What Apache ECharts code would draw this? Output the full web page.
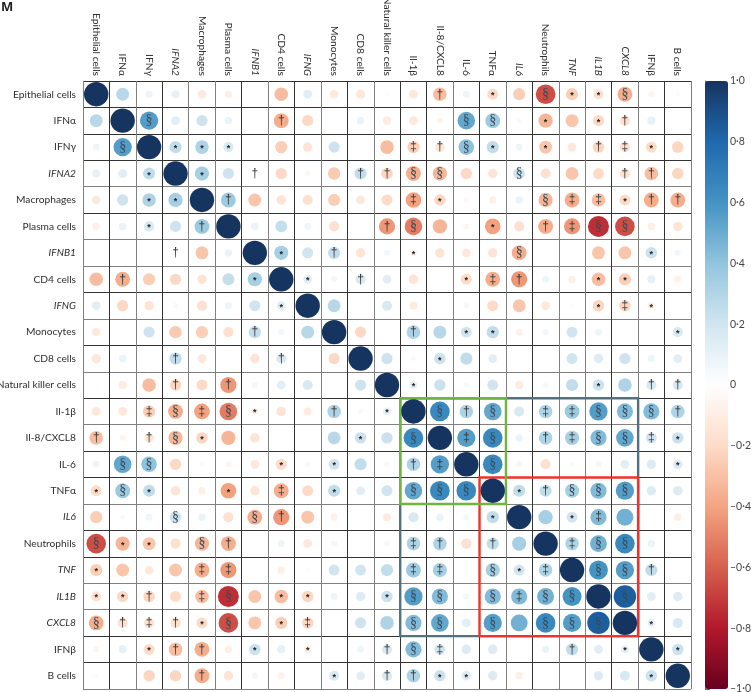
<!DOCTYPE html>
<html>
<head>
<meta charset="utf-8">
<style>html,body{margin:0;padding:0;background:#fff}#container{width:756px;height:692px}</style>
<script src="https://cdn.jsdelivr.net/npm/echarts@6/dist/echarts.min.js"></script>
</head>
<body>
<div id="container"></div>
<script>
let names = ['Epithelial cells','IFNα','IFNγ','IFNA2','Macrophages','Plasma cells','IFNB1','CD4 cells','IFNG','Monocytes','CD8 cells','Natural killer cells','Il-1β','Il-8/CXCL8','IL-6','TNFα','IL6','Neutrophils','TNF','IL1B','CXCL8','IFNβ','B cells'];
let italicNames = ['IFNA2','IFNB1','IFNG','IL6','TNF','IL1B','CXCL8'];

// upper triangle of the correlation matrix, each row starts right of the diagonal
let epithelialRow = [.28,.08,.11,-.12,-.09,-.005,-.31,.13,-.12,-.14,-.02,-.13,-.31,.08,-.2,-.25,-.65,-.25,-.17,-.37,-.06,-.03];
let ifnaRow = [.56,.13,.21,.09,0,-.37,-.21,-.01,.09,-.11,-.13,-.06,.52,.37,.04,-.34,-.28,-.21,-.17,.11,-.01];
let ifngRow = [.25,.31,.17,-.01,-.25,-.15,.21,0,-.31,-.25,-.15,.41,.25,.08,-.28,-.13,-.22,-.17,-.2,-.22];
let ifna2Row = [.34,.21,.005,-.21,-.05,-.26,.25,-.22,-.37,-.34,-.21,-.15,.22,-.17,-.28,-.2,-.17,-.31,-.22];
let macrophagesRow = [.37,-.28,-.15,-.17,-.25,-.13,-.2,-.41,-.22,-.04,-.09,.09,-.34,-.37,-.31,-.2,-.37,-.37];
let plasmaRow = [.09,.24,.08,-.17,-.01,-.44,-.52,-.34,-.06,-.41,-.17,-.37,-.44,-.74,-.65,-.09,-.15];
let ifnb1Row = [.34,.2,.25,-.15,.06,-.08,-.15,-.13,-.15,-.37,0,0,-.28,-.28,.22,.06];
let cd4Row = [.13,.06,.17,.13,-.15,0,-.2,-.37,-.44,.08,-.09,-.31,-.25,.11,-.08];
let ifngGeneRow = [.28,-.007,.17,-.11,0,.05,-.2,-.28,-.13,.02,-.22,-.22,-.09,-.01];
let monocytesRow = [-.21,0,.31,.28,.2,.25,-.08,.06,.2,.08,.01,.005,.17];
let cd8Row = [.21,.04,.22,.25,.13,.005,.005,.2,.15,.21,.08,.13];
let nkRow = [.11,.22,.05,.2,-.11,.05,.25,.22,.31,.17,.17];
let il1bRow = [.65,.31,.52,.17,.31,.37,.56,.44,.44,.31];
let il8Row = [.56,.65,.09,.31,.34,.44,.52,.2,.22];
let il6Row = [.65,.06,-.17,.03,.06,.13,.15,.15];
let tnfaRow = [.25,.25,.34,.44,.56,.15,.15];
let il6GeneRow = [.34,.2,.44,.48,0,-.09];
let neutrophilsRow = [.31,.48,.65,.09,0];
let tnfRow = [.6,.56,.25,.007];
let il1bGeneRow = [.84,.13,.15];
let cxcl8Row = [.11,.17];
let ifnbRow = [.22];
let upperRows = [epithelialRow,ifnaRow,ifngRow,ifna2Row,macrophagesRow,plasmaRow,ifnb1Row,cd4Row,ifngGeneRow,monocytesRow,cd8Row,nkRow,il1bRow,il8Row,il6Row,tnfaRow,il6GeneRow,neutrophilsRow,tnfRow,il1bGeneRow,cxcl8Row,ifnbRow];

// significance marks, same layout as the rows above, - means no mark
let upperMarks = [
    '------------†-*-§**§--',
    '§----†------§§-*-*†--',
    '***------‡†§*-*-†‡*-',
    '*-†---††§§--§---††-',
    '†------‡*---§‡‡*††',
    '-----†§--*-†‡§§--',
    '*-†--*---§----*-',
    '*-†---*‡†--**--',
    '----------*‡*-',
    '--†-**------*',
    '--*---------',
    '*------*-††',
    '§†§-‡‡§§§†',
    '‡§-†‡§§‡*',
    '§------*',
    '*†§§§--',
    '-*‡---',
    '‡§§--',
    '§§†-',
    '§--',
    '*-',
    '*'
];

let colorStops = ['#67001f','#b2182b','#d6604d','#f4a582','#fddbc7','#ffffff','#d1e5f0','#92c5de','#4393c3','#1f69ae','#15345f'];
let boxRanges = [[12,20],[15,20],[12,15]];
let boxColors = ['#54717f','#f0322a','#6fb53f'];

// grid lines come out in two weights in the reference
let D = '#333333', G = '#808080';
let verticalLines = [G,D,G,D,G,G,D,G,D,G,D,G,D,D,G,D,G,D,G,G,D,G,D,G];
let horizontalLines = [D,D,D,D,G,D,G,G,D,G,D,G,D,G,D,D,G,D,D,G,G,D,D,G];

let font = 'Lato';
let labelSize = 10.2;
let textColor = '#2e2e2e';
let points = [];
function addPoint(x, y, r, mark) {
    let item = { value: [x, y, r, mark] };
    if (mark === '*') item.label = { offset: [0, 1.5], fontSize: 9, fontWeight: 'bold', color: '#222' };
    if (mark === '§') item.label = { fontFamily: 'Liberation Sans Narrow', fontSize: 14, color: '#3a4a58' };
    points.push(item);
}
names.forEach(function (n, i) {
    addPoint(i, i, 1, '-');
    if (i === names.length - 1) return;
    let marks = [...upperMarks[i]];
    upperRows[i].forEach(function (r, k) {
        let j = i + k + 1;
        addPoint(j, i, r, marks[k]);
        addPoint(i, j, r, marks[k]);
    });
});

function nameLabel(v) {
    return italicNames.indexOf(v) >= 0 ? '{i|' + v + '}' : v;
}
let labelRich = { i: { fontStyle: 'italic', fontFamily: font, fontSize: labelSize, color: textColor } };

let myChart = echarts.init(document.getElementById('container'));
let option = {
    animation: false,
    title: {
        text: 'M', left: 0, top: 0, padding: [1, 0, 0, 1],
        textStyle: { fontFamily: 'Open Sans', fontSize: 13, fontWeight: 'bold', color: '#222' }
    },
    grid: [
        { left: 83, top: 81, width: 608, height: 608, outerBoundsMode: 'none' },
        { left: 705, top: 81, width: 23, height: 608, outerBoundsMode: 'none' }
    ],
    xAxis: [
        {
            type: 'category', data: names, position: 'top', gridIndex: 0,
            axisLine: { show: false }, axisTick: { show: false },
            axisLabel: { rotate: 90, interval: 0, margin: 5, fontFamily: font, fontSize: labelSize, color: textColor, formatter: nameLabel, rich: labelRich },
            splitLine: { show: true, interval: 0, lineStyle: { color: verticalLines, width: 1 } }
        },
        { type: 'value', gridIndex: 1, show: false }
    ],
    yAxis: [
        {
            type: 'category', data: names, inverse: true, gridIndex: 0,
            axisLine: { show: false }, axisTick: { show: false },
            axisLabel: { interval: 0, margin: 7, fontFamily: font, fontSize: labelSize, color: textColor, formatter: nameLabel, rich: labelRich },
            splitLine: { show: true, interval: 0, lineStyle: { color: horizontalLines, width: 1 } }
        },
        {
            type: 'value', gridIndex: 1, position: 'right', min: -1, max: 1, interval: 0.2,
            axisLine: { show: true, lineStyle: { color: '#666' } },
            axisTick: { show: true, length: 5, lineStyle: { color: '#666' } },
            splitLine: { show: false },
            axisLabel: {
                margin: 2, fontFamily: font, fontSize: 10.5, color: '#444',
                formatter: function (v) {
                    if (Math.abs(v) < 1e-6) return '0';
                    return (v < 0 ? '–' : '') + Math.abs(v).toFixed(1).replace('.', '·');
                }
            }
        }
    ],
    visualMap: {
        type: 'continuous', min: -1, max: 1, dimension: 2, seriesIndex: 1,
        left: 705, top: 81, itemWidth: 23, itemHeight: 608, padding: 0,
        calculable: false, realtime: false, text: null, showLabel: false,
        textStyle: { fontSize: 0 },
        inRange: { color: colorStops }
    },
    series: [
        {
            type: 'custom', xAxisIndex: 0, yAxisIndex: 0, z: 1, silent: true, clip: false,
            data: boxRanges,
            renderItem: function (params, api) {
                let a = api.coord([api.value(0), api.value(0)]);
                let b = api.coord([api.value(1), api.value(1)]);
                let band = api.size([1, 1]);
                return {
                    type: 'rect',
                    shape: { x: a[0] - band[0] / 2, y: a[1] - band[1] / 2, width: b[0] - a[0] + band[0], height: b[1] - a[1] + band[1] },
                    style: { fill: 'none', stroke: boxColors[params.dataIndex], lineWidth: 2.4 }
                };
            }
        },
        {
            type: 'scatter', xAxisIndex: 0, yAxisIndex: 0, z: 2, silent: true,
            data: points,
            symbolSize: function (v) { return 24.4 * Math.sqrt(Math.abs(v[2])); },
            itemStyle: { opacity: 1 },
            label: {
                show: true, position: 'inside', color: '#333', fontFamily: 'Liberation Sans', fontSize: 12,
                formatter: function (p) { return p.value[3] === '-' ? '' : p.value[3]; }
            }
        }
    ]
};
myChart.setOption(option, true);
</script>
</body>
</html>
